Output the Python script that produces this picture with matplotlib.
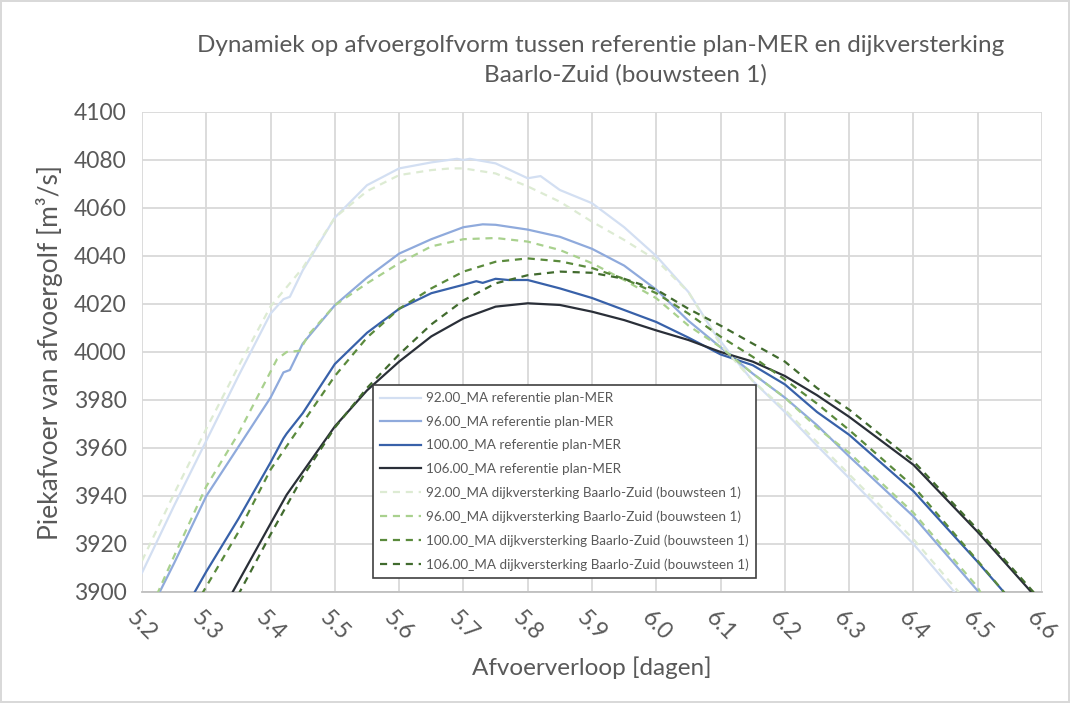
import matplotlib
matplotlib.use("Agg")
import matplotlib.pyplot as plt
import numpy as np

plt.rcParams['font.family'] = ['Lato', 'DejaVu Sans']

# ---------------- data ----------------
x_ref92 = [5.20, 5.25, 5.30, 5.35, 5.40, 5.42, 5.43, 5.45, 5.50, 5.55, 5.60, 5.65, 5.69, 5.70,
           5.71, 5.75, 5.80, 5.82, 5.85, 5.90, 5.95, 6.00, 6.05, 6.09, 6.11, 6.15, 6.20, 6.25,
           6.30, 6.40, 6.47]
y_ref92 = [3908, 3936, 3963, 3990, 4016, 4022, 4023, 4034, 4056, 4069.5, 4076.5, 4079, 4080.5, 4080,
           4080.5, 4078.6, 4072.4, 4073.3, 4067.5, 4062, 4052, 4040, 4025, 4008, 4001, 3988, 3975,
           3961, 3947.5, 3920, 3898]

x_ref96 = [5.22, 5.25, 5.30, 5.35, 5.40, 5.42, 5.43, 5.45, 5.50, 5.55, 5.60, 5.65, 5.70, 5.73,
           5.75, 5.80, 5.85, 5.90, 5.95, 6.00, 6.05, 6.10, 6.15, 6.20, 6.25, 6.30, 6.40, 6.50, 6.52]
y_ref96 = [3896, 3912, 3940, 3960.5, 3981, 3991.5, 3992.5, 4003.5, 4019.5, 4031, 4041, 4047, 4052, 4053.2,
           4053, 4051, 4048, 4043, 4036, 4026, 4013, 4002, 3991, 3981, 3969.5, 3956.5, 3931.5, 3900.5, 3894]

x_ref100 = [5.27, 5.282, 5.30, 5.35, 5.40, 5.42, 5.425, 5.45, 5.50, 5.55, 5.60, 5.65, 5.70, 5.72,
            5.73, 5.75, 5.77, 5.80, 5.85, 5.90, 5.95, 6.00, 6.05, 6.10, 6.15, 6.20, 6.25, 6.30,
            6.40, 6.50, 6.56]
y_ref100 = [3894, 3900, 3908.5, 3930.5, 3954, 3964, 3966, 3974.5, 3995, 4008, 4018, 4024.5, 4028, 4029.5,
            4028.8, 4030.5, 4030, 4030, 4026.5, 4022.5, 4017.5, 4012.5, 4006, 3999, 3994.5, 3986.5, 3975,
            3965.5, 3942, 3912.5, 3894]

x_ref106 = [5.33, 5.341, 5.37, 5.40, 5.425, 5.45, 5.50, 5.55, 5.60, 5.65, 5.70, 5.75, 5.80, 5.85,
            5.90, 5.95, 6.00, 6.05, 6.10, 6.15, 6.20, 6.25, 6.30, 6.40, 6.50, 6.59]
y_ref106 = [3894, 3900, 3914, 3928.5, 3940.5, 3950, 3969, 3984, 3996, 4006.5, 4014, 4018.9, 4020.3, 4019.6,
            4016.8, 4013.3, 4009, 4005, 4000, 3996, 3990, 3982, 3973, 3953, 3925, 3898]

x_dijk92 = [5.20, 5.25, 5.30, 5.35, 5.40, 5.45, 5.50, 5.55, 5.60, 5.65, 5.68, 5.70, 5.75, 5.80,
            5.85, 5.90, 5.95, 6.00, 6.05, 6.10, 6.15, 6.20, 6.25, 6.30, 6.40, 6.48]
y_dijk92 = [3913, 3941, 3968, 3994, 4019, 4035, 4056, 4067, 4073.7, 4075.8, 4076.5, 4076.5, 4074.4, 4069,
            4062.6, 4054.3, 4046.7, 4038.3, 4025, 4003, 3988, 3976, 3962.5, 3949, 3922, 3897]

x_dijk96 = [5.215, 5.225, 5.25, 5.30, 5.35, 5.38, 5.41, 5.425, 5.445, 5.46, 5.50, 5.55, 5.60, 5.65,
            5.70, 5.75, 5.80, 5.85, 5.90, 5.95, 6.00, 6.05, 6.10, 6.15, 6.20, 6.25, 6.30, 6.40,
            6.50, 6.51]
y_dijk96 = [3894, 3900, 3915, 3944, 3966, 3981.5, 3997, 4000, 4000.5, 4007.5, 4019.5, 4028.6, 4037, 4044,
            4047, 4047.5, 4046, 4042.5, 4037, 4030, 4022.4, 4011, 4002, 3991, 3981, 3968.5, 3958, 3933,
            3902, 3897]

x_dijk100 = [5.285, 5.295, 5.35, 5.40, 5.45, 5.50, 5.55, 5.60, 5.65, 5.70, 5.75, 5.80, 5.85, 5.90,
             5.95, 6.00, 6.05, 6.10, 6.15, 6.20, 6.25, 6.30, 6.40, 6.50, 6.55]
y_dijk100 = [3894, 3900, 3925, 3951, 3970.5, 3990, 4006, 4018, 4026.5, 4033.5, 4037.6, 4039, 4037.8, 4035,
             4030.5, 4024.5, 4016, 4006.4, 3998, 3988.5, 3978.5, 3967.5, 3944, 3913, 3897]

x_dijk106 = [5.34, 5.352, 5.40, 5.45, 5.50, 5.55, 5.60, 5.65, 5.70, 5.75, 5.80, 5.85, 5.90, 5.95,
             6.00, 6.05, 6.10, 6.15, 6.20, 6.25, 6.30, 6.40, 6.50, 6.59, 6.60]
y_dijk106 = [3894, 3900, 3924, 3948, 3968.5, 3985, 3999, 4011.5, 4021.5, 4028.6, 4032, 4033.5, 4033, 4030.5,
             4026, 4018, 4011, 4003.5, 3996, 3985, 3976, 3954.5, 3926, 3899, 3896]

labels = ["92.00_MA referentie plan-MER", "96.00_MA referentie plan-MER",
          "100.00_MA referentie plan-MER", "106.00_MA referentie plan-MER",
          "92.00_MA dijkversterking Baarlo-Zuid (bouwsteen 1)",
          "96.00_MA dijkversterking Baarlo-Zuid (bouwsteen 1)",
          "100.00_MA dijkversterking Baarlo-Zuid (bouwsteen 1)",
          "106.00_MA dijkversterking Baarlo-Zuid (bouwsteen 1)"]

x_ticks = [5.2, 5.3, 5.4, 5.5, 5.6, 5.7, 5.8, 5.9, 6.0, 6.1, 6.2, 6.3, 6.4, 6.5, 6.6]
y_ticks = [3900, 3920, 3940, 3960, 3980, 4000, 4020, 4040, 4060, 4080, 4100]

# ---------------- figure ----------------
W, H = 1070, 703
fig = plt.figure(figsize=(W / 100, H / 100), dpi=100)
fig.patch.set_facecolor('white')
ax = fig.add_axes([142 / W, 1 - 592 / H, 900 / W, 480 / H])

dash = (0, (3.2, 2.6))
series = [
    (x_ref92, y_ref92, '#D3DFF2', '-'),
    (x_ref96, y_ref96, '#8FAADC', '-'),
    (x_ref100, y_ref100, '#3861A9', '-'),
    (x_ref106, y_ref106, '#2A2F38', '-'),
    (x_dijk92, y_dijk92, '#DDEBD3', dash),
    (x_dijk96, y_dijk96, '#A9D18E', dash),
    (x_dijk100, y_dijk100, '#5A8A3C', dash),
    (x_dijk106, y_dijk106, '#416B2E', dash),
]
for (xs, ys, c, ls), lab in zip(series, labels):
    ax.plot(xs, ys, color=c, linestyle=ls, linewidth=1.6, label=lab, zorder=3)

ax.set_xlim(5.2, 6.6)
ax.set_ylim(3900, 4100)
ax.set_xticks(x_ticks)
ax.set_yticks(y_ticks)
ax.set_xticklabels([f"{v:.1f}" for v in x_ticks], rotation=-45, ha='center', va='top')
ax.set_yticklabels([str(v) for v in y_ticks])
ax.tick_params(axis='both', length=0, labelsize=16.5, colors='#595959')
ax.tick_params(axis='x', pad=11)
ax.tick_params(axis='y', pad=11)
ax.grid(True, color='#D9D9D9', linewidth=1.3, zorder=0)
ax.set_axisbelow(True)
for s in ['top', 'right', 'left']:
    ax.spines[s].set_visible(False)
ax.spines['bottom'].set_color('#BFBFBF')
ax.spines['bottom'].set_linewidth(1.3)

ax.set_xlabel("Afvoerverloop [dagen]", fontsize=17.5, color='#595959', labelpad=8)
ax.set_ylabel("Piekafvoer van afvoergolf [m³/s]", fontsize=19, color='#595959', labelpad=8)

fig.text(601 / W, 1 - 46 / H,
         "Dynamiek op afvoergolfvorm tussen referentie plan-MER en dijkversterking",
         ha='center', va='center', fontsize=17.5, color='#595959')
fig.text(625 / W, 1 - 75 / H, "Baarlo-Zuid (bouwsteen 1)",
         ha='center', va='center', fontsize=17.5, color='#595959')

leg = ax.legend(loc='upper left', bbox_to_anchor=(373 / W, 1 - 385 / H),
                bbox_transform=fig.transFigure, fontsize=9.7, frameon=True,
                fancybox=False, edgecolor='#404040', framealpha=1,
                handlelength=3.0, handletextpad=0.35, labelspacing=0.85,
                borderpad=0.55, borderaxespad=0, labelcolor='#595959')
leg.get_frame().set_linewidth(1.2)
leg.set_zorder(5)

fig.patch.set_edgecolor('#D9D9D9')
fig.patch.set_linewidth(1.5)

fig.savefig("out.png", dpi=100, facecolor=fig.get_facecolor(), edgecolor=fig.get_edgecolor())
